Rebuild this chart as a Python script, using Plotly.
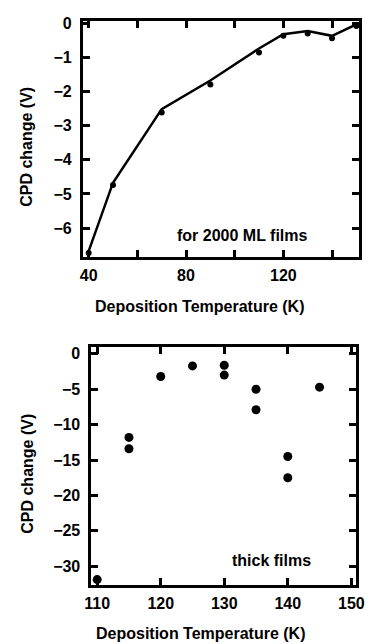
import plotly.graph_objects as go

# ---- data: top panel (2000 ML films) ----
top_T = [40, 50, 70, 90, 110, 120, 130, 140, 150]
top_cpd = [-6.73, -4.74, -2.61, -1.79, -0.85, -0.36, -0.29, -0.43, -0.07]
fit_T = [40, 50, 70, 90, 110, 120, 130, 140, 150]
fit_cpd = [-6.68, -4.67, -2.51, -1.67, -0.73, -0.31, -0.22, -0.36, -0.02]

# ---- data: bottom panel (thick films) ----
bot_T = [110, 115, 115, 120, 125, 130, 130, 135, 135, 140, 140, 145]
bot_cpd = [-31.9, -11.8, -13.4, -3.2, -1.7, -1.6, -3.0, -5.0, -7.9, -14.5, -17.5, -4.7]

W, H = 374, 644
FONT = "Liberation Sans"


def bold(s):
    return "<b>" + s + "</b>"


fig = go.Figure()
fig.add_trace(go.Scatter(x=fit_T, y=fit_cpd, mode="lines",
                         line=dict(color="black", width=2.5), xaxis="x", yaxis="y",
                         showlegend=False, hoverinfo="skip"))
fig.add_trace(go.Scatter(x=top_T, y=top_cpd, mode="markers",
                         marker=dict(color="black", size=6), xaxis="x", yaxis="y",
                         showlegend=False))
fig.add_trace(go.Scatter(x=bot_T, y=bot_cpd, mode="markers",
                         marker=dict(color="black", size=9), xaxis="x2", yaxis="y2",
                         showlegend=False))


def px_x(p):
    return p / W


def px_y(p):
    return 1 - p / H


axis_common = dict(showline=True, linecolor="black", linewidth=3, mirror="allticks",
                   ticks="inside", ticklen=7, tickwidth=3, tickcolor="black",
                   showgrid=False, zeroline=False, tickmode="linear",
                   tickprefix="<b>", ticksuffix="</b>",
                   tickfont=dict(family=FONT, size=16, color="black"))

fig.update_layout(
    width=W, height=H, margin=dict(l=0, r=0, t=0, b=0),
    paper_bgcolor="white", plot_bgcolor="white",
    xaxis=dict(domain=[px_x(79), px_x(367)], range=[37.6, 151.2], anchor="y",
               tick0=40, dtick=40,
               minor=dict(tick0=40, dtick=20, ticks="inside", ticklen=7, tickwidth=3,
                          tickcolor="black", showgrid=False),
               ticklabelstandoff=2, **axis_common),
    yaxis=dict(domain=[px_y(253), px_y(15)], range=[-6.84, 0.08], anchor="x",
               tick0=0, dtick=1, ticklabelstandoff=5, **axis_common),
    xaxis2=dict(domain=[px_x(88), px_x(364)], range=[109.1, 150.8], anchor="y2",
                tick0=110, dtick=10, ticklabelstandoff=2, **axis_common),
    yaxis2=dict(domain=[px_y(584), px_y(344)], range=[-32.6, 1.0], anchor="x2",
                tick0=0, dtick=5, ticklabelstandoff=5, **axis_common),
)

title_font = dict(family=FONT, size=16, color="black")
anns = [
    dict(text="Deposition Temperature (K)", x=px_x(201), y=px_y(303)),
    dict(text="Deposition Temperature (K)", x=px_x(202), y=px_y(633)),
    dict(text="CPD change (V)", x=px_x(21), y=px_y(142), textangle=-90),
    dict(text="CPD change (V)", x=px_x(21), y=px_y(472), textangle=-90),
    dict(text="for 2000 ML films", x=px_x(245), y=px_y(232)),
    dict(text="thick films", x=px_x(276), y=px_y(560)),
]
for a in anns:
    a["text"] = bold(a["text"])
    fig.add_annotation(xref="paper", yref="paper", showarrow=False,
                       xanchor="center", yanchor="middle", font=title_font, **a)

fig.write_html("out.html")
